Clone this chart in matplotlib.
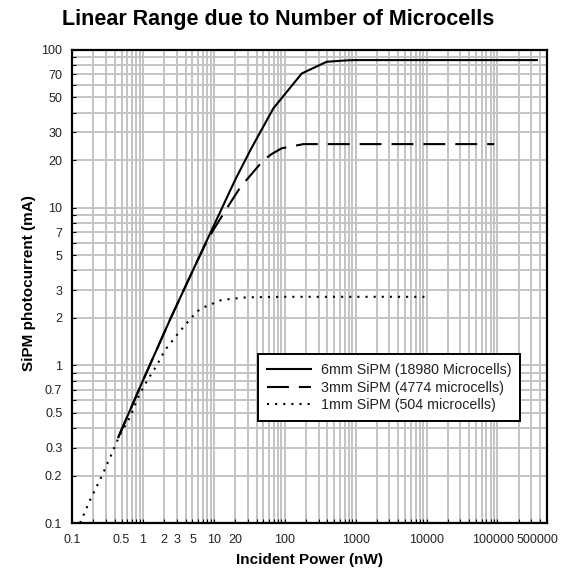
import matplotlib
matplotlib.use('Agg')
import matplotlib.pyplot as plt
from matplotlib.ticker import FixedLocator, NullFormatter, LogLocator
from matplotlib.transforms import ScaledTranslation

plt.rcParams['font.family'] = ['Liberation Sans', 'DejaVu Sans']

# 6mm SiPM (18980 microcells)
x_6mm = [0.45, 1, 2.4, 5, 10, 20, 33, 69, 174, 390, 760, 1000, 10000, 100000, 360000]
y_6mm = [0.35, 0.8, 1.94, 3.95, 7.7, 15, 23.3, 42.6, 71, 84.2, 86, 86.3, 86.3, 86.3, 86.3]

# 3mm SiPM (4774 microcells)
x_3mm = [0.45, 1, 2.4, 5, 7.5, 10, 14.4, 22.2, 27.5, 50, 65.6, 90.7, 140, 183, 1000, 10000, 90000]
y_3mm = [0.35, 0.8, 1.94, 3.95, 5.8, 7.3, 9.5, 12.9, 14.6, 20, 21.9, 23.8, 24.7, 25.3, 25.3, 25.3, 25.3]

# 1mm SiPM (504 microcells)
x_1mm = [0.13, 0.18, 0.265, 0.37, 0.47, 0.66, 0.86, 1.13, 1.57, 2.05, 3.16, 4.15, 5.8, 7.5, 12.9, 29, 100, 1000, 10000]
y_1mm = [0.1, 0.14, 0.2, 0.28, 0.36, 0.47, 0.63, 0.79, 1.0, 1.25, 1.6, 1.85, 2.2, 2.35, 2.6, 2.7, 2.72, 2.72, 2.72]

labels = ['6mm SiPM (18980 Microcells)', '3mm SiPM (4774 microcells)', '1mm SiPM (504 microcells)']

xticks = [0.1, 0.5, 1, 2, 3, 5, 10, 20, 100, 1000, 10000, 100000, 500000]
xtick_labels = ['0.1', '0.5', '1', '2', '3', '5', '10', '20', '100', '1000', '10000', '100000', '500000']
yticks = [0.1, 0.2, 0.3, 0.5, 0.7, 1, 2, 3, 5, 7, 10, 20, 30, 50, 70, 100]
ytick_labels = ['0.1', '0.2', '0.3', '0.5', '0.7', '1', '2', '3', '5', '7', '10', '20', '30', '50', '70', '100']

fig = plt.figure(figsize=(5.78, 5.68), dpi=100)
ax = fig.add_axes([72 / 578, 45 / 568, 475 / 578, 473 / 568])

ax.plot(x_6mm, y_6mm, color='black', lw=1.5, label=labels[0])
ax.plot(x_3mm, y_3mm, color='black', lw=1.5, dashes=(10.5, 4.8), label=labels[1])
ax.plot(x_1mm, y_1mm, color='black', lw=1.5, dashes=(1.0, 2.9), label=labels[2])

ax.set_xscale('log')
ax.set_yscale('log')
ax.set_xlim(0.1, 500000)
ax.set_ylim(0.1, 100)

ax.xaxis.set_major_locator(FixedLocator(xticks))
ax.set_xticklabels(xtick_labels)
ax.yaxis.set_major_locator(FixedLocator(yticks))
ax.set_yticklabels(ytick_labels)
ax.xaxis.set_minor_locator(LogLocator(base=10, subs=range(1, 10), numticks=20))
ax.yaxis.set_minor_locator(LogLocator(base=10, subs=range(1, 10), numticks=20))
ax.xaxis.set_minor_formatter(NullFormatter())
ax.yaxis.set_minor_formatter(NullFormatter())

ax.grid(True, which='both', color='#c4c4c4', lw=1.4)
ax.set_axisbelow(True)
ax.tick_params(which='both', direction='in', length=3, width=0.8, labelsize=9,
               labelcolor='#222222')
ax.tick_params(axis='x', pad=8)
ax.tick_params(axis='y', pad=7)
for s in ax.spines.values():
    s.set_linewidth(1.6)
    s.set_color('black')

# last two x labels sit slightly left in the original
xl = ax.get_xticklabels()
xl[-2].set_transform(xl[-2].get_transform() + ScaledTranslation(-4 / 100, 0, fig.dpi_scale_trans))
xl[-1].set_transform(xl[-1].get_transform() + ScaledTranslation(-10 / 100, 0, fig.dpi_scale_trans))

leg = ax.legend(loc='lower left', bbox_to_anchor=(0.377, 0.201), fontsize=10.3,
                handlelength=3.1, handletextpad=0.7, labelspacing=0.25,
                borderpad=0.6, fancybox=False, framealpha=1, edgecolor='black')
leg.get_frame().set_linewidth(1.4)
for t in leg.get_texts():
    t.set_color('#222222')

fig.text(278 / 578, 1 - 20 / 568, 'Linear Range due to Number of Microcells',
         ha='center', va='center', fontsize=15.5, fontweight='bold')
fig.text(309 / 578, 1 - 560 / 568, 'Incident Power (nW)', ha='center', va='center',
         fontsize=11, fontweight='bold')
fig.text(29 / 578, 1 - 283 / 568, 'SiPM photocurrent (mA)', ha='center', va='center',
         rotation=90, fontsize=11, fontweight='bold')

fig.savefig('out.png', dpi=100)
